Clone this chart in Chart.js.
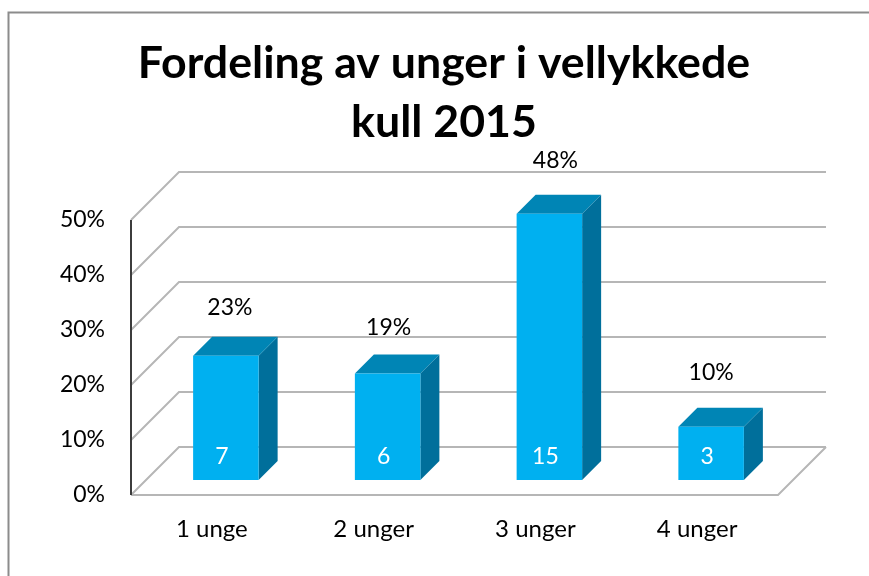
<!DOCTYPE html>
<html>
<head>
<meta charset="utf-8">
<style>html,body{margin:0;padding:0;background:#fff}#w{width:869px;height:576px;position:relative}</style>
<script src="https://cdn.jsdelivr.net/npm/chart.js@4"></script>
</head>
<body>
<div id="w"><canvas id="c" width="869" height="576"></canvas></div>
<script>
const categories = ['1 unge', '2 unger', '3 unger', '4 unger'];
const shares = [22.58, 19.35, 48.39, 9.68];
const counts = [7, 6, 15, 3];
const yTicks = [0, 10, 20, 30, 40, 50];
const titleLines = ['Fordeling av unger i vellykkede', 'kull 2015'];

// label placement relative to the front-top of each bar (layout only)
const pctNudge = [[4, -49], [1, -47], [6, -54], [0, -55]];
const FONT = 'Lato, "Noto Sans", sans-serif';
const FLOOR = 48, SHIFT_X = 14, SHIFT_Y = 15, DEPTH = 19;
const FRONT = '#00B0F0', TOP = '#0085B5', SIDE = '#006F9B', GRID = '#b6b6b6';

const threeD = {
  id: 'threeD',
  afterLayout(chart) {
    // the title is centred on the whole frame, not on the plot
    chart.titleBlock.left = 20;
    chart.titleBlock.right = 868;
  },
  beforeDraw(chart) {
    const c = chart.ctx, a = chart.chartArea, y = chart.scales.y;
    c.save();
    // outer frame
    c.strokeStyle = '#8c8c8c'; c.lineWidth = 2;
    c.beginPath(); c.moveTo(8.5, 576); c.lineTo(8.5, 12.5); c.lineTo(869, 12.5); c.stroke();
    // grid: back wall and side wall
    c.strokeStyle = GRID; c.lineWidth = 2; c.lineJoin = 'miter';
    yTicks.forEach(v => {
      const p = y.getPixelForValue(v);
      c.beginPath();
      c.moveTo(a.left, p); c.lineTo(a.left + FLOOR, p - FLOOR); c.lineTo(a.right + FLOOR, p - FLOOR);
      c.stroke();
    });
    // floor
    c.beginPath();
    c.moveTo(a.left, a.bottom); c.lineTo(a.right, a.bottom); c.lineTo(a.right + FLOOR, a.bottom - FLOOR);
    c.stroke();
    // value axis
    c.strokeStyle = '#3c3c3c'; c.lineWidth = 2;
    c.beginPath(); c.moveTo(a.left, a.top); c.lineTo(a.left, a.bottom); c.stroke();
    c.restore();
  },
  beforeDatasetsDraw(chart) {
    const c = chart.ctx;
    c.save();
    c.translate(SHIFT_X, -SHIFT_Y);
    chart.getDatasetMeta(0).data.forEach(b => {
      const l = b.x - b.width / 2, r = b.x + b.width / 2;
      c.fillStyle = SIDE;
      c.beginPath();
      c.moveTo(r, b.y); c.lineTo(r + DEPTH, b.y - DEPTH); c.lineTo(r + DEPTH, b.base - DEPTH); c.lineTo(r, b.base);
      c.closePath(); c.fill();
      c.fillStyle = TOP;
      c.beginPath();
      c.moveTo(l, b.y); c.lineTo(l + DEPTH, b.y - DEPTH); c.lineTo(r + DEPTH, b.y - DEPTH); c.lineTo(r, b.y);
      c.closePath(); c.fill();
    });
  },
  afterDatasetsDraw(chart) {
    const c = chart.ctx;
    c.restore();
    c.save();
    c.textAlign = 'center'; c.textBaseline = 'middle';
    c.font = '23px ' + FONT;
    chart.getDatasetMeta(0).data.forEach((b, i) => {
      const cx = b.x + SHIFT_X, top = b.y - SHIFT_Y, base = b.base - SHIFT_Y;
      c.fillStyle = '#ffffff';
      c.fillText(String(counts[i]), cx - 4, base - 23);
      c.fillStyle = '#000000';
      c.fillText(shares[i].toFixed(0) + '%', cx + pctNudge[i][0], top + pctNudge[i][1] + 1);
    });
    c.restore();
  }
};

new Chart(document.getElementById('c'), {
  type: 'bar',
  data: {
    labels: categories,
    datasets: [{
      data: shares,
      backgroundColor: FRONT,
      borderWidth: 0,
      barPercentage: 0.405,
      categoryPercentage: 1,
      clip: false
    }]
  },
  plugins: [threeD],
  options: {
    responsive: false,
    animation: false,
    layout: { padding: { left: 20, right: 91, top: 0, bottom: 0 } },
    plugins: {
      legend: { display: false },
      tooltip: { enabled: false },
      title: {
        display: true,
        text: titleLines,
        color: '#000000',
        font: { family: FONT, size: 44.7, weight: 'bold', lineHeight: 1.32 },
        padding: { top: 34, bottom: 68 }
      }
    },
    scales: {
      x: {
        afterFit(s) { s.height = 81; },
        grid: { display: false, drawTicks: false },
        border: { display: false },
        ticks: { color: '#000', font: { family: FONT, size: 24 }, padding: 20, maxRotation: 0 }
      },
      y: {
        min: 0, max: 50,
        afterFit(s) { s.width = 111; },
        grid: { display: false, drawTicks: false },
        border: { display: false },
        ticks: {
          stepSize: 10, color: '#000', font: { family: FONT, size: 23 }, padding: 26,
          callback: v => v + '%'
        }
      }
    }
  }
});
</script>
</body>
</html>
